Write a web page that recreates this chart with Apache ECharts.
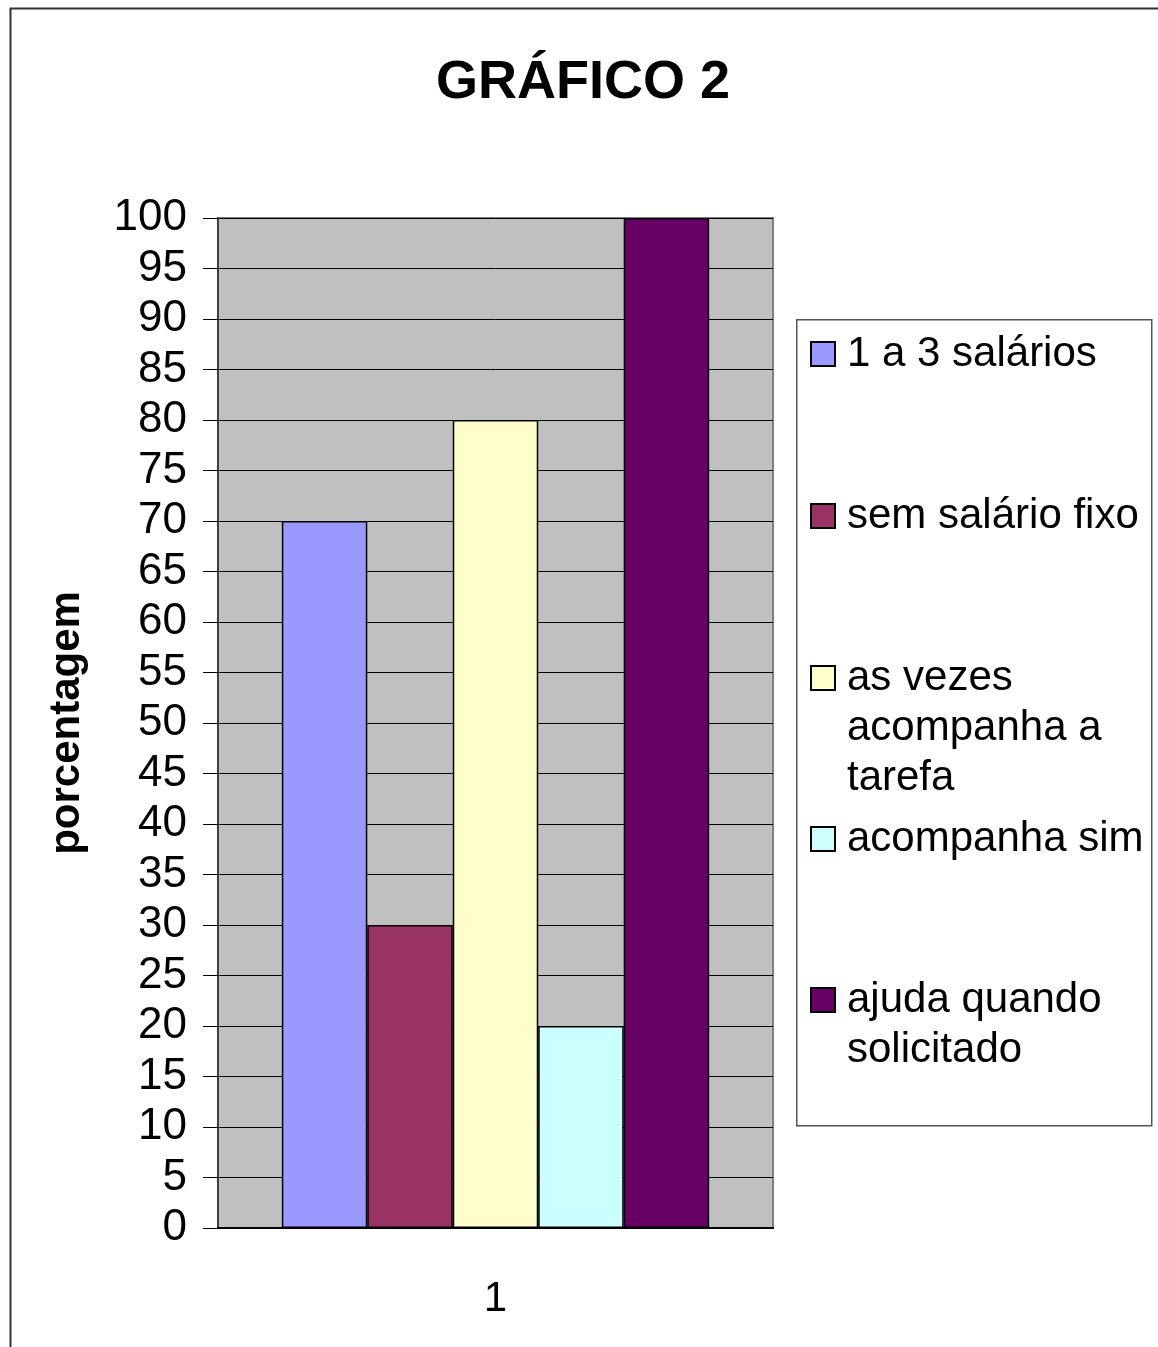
<!DOCTYPE html>
<html>
<head>
<meta charset="utf-8">
<title>GRÁFICO 2</title>
<script src="https://cdn.jsdelivr.net/npm/echarts@6/dist/echarts.min.js"></script>
<style>
  html, body { margin: 0; padding: 0; background: #fff; }
  #chart { width: 1158px; height: 1347px; }
</style>
</head>
<body>
<div id="chart"></div>
<script>
// dados
var categorias = ['1'];
var series_nomes = ['1 a 3 salários', 'sem salário fixo', 'as vezes\nacompanha a\ntarefa', 'acompanha sim', 'ajuda quando\nsolicitado'];
var valores = [70, 30, 80, 20, 100];
var cores = ['#9999FF', '#993366', '#FFFFCC', '#CCFFFF', '#660066'];

var FONTE = '"Liberation Sans", Arial, sans-serif';

// cada item da legenda fica numa legenda propria (como no Excel, a distancia entre itens é fixa)
var legendaTopo = [328, 490, 652, 813, 974];
function icone(linhas) {
  var h = (50 * linhas / 24).toFixed(4);
  return 'path://M0,0M0,0.5417L1,0.5417L1,1.5417L0,1.5417ZM0,' + h;
}

var legendas = series_nomes.map(function (nome, i) {
  var linhas = nome.split('\n').length;
  return {
    data: [nome],
    left: 810,
    top: legendaTopo[i],
    orient: 'vertical',
    padding: 0,
    icon: icone(linhas),
    itemWidth: 24,
    itemHeight: 50 * linhas,
    symbolKeepAspect: true,
    selectedMode: false,
    textStyle: {
      fontFamily: FONTE,
      fontSize: 42,
      lineHeight: 50,
      color: '#000',
      padding: [0, 0, 0, 7]
    }
  };
});

var series = series_nomes.map(function (nome, i) {
  return {
    name: nome,
    type: 'bar',
    barGap: '0%',
    barCategoryGap: '23%',
    data: [valores[i]],
    itemStyle: { color: cores[i], borderColor: '#000', borderWidth: 1.5 }
  };
});

var myChart = echarts.init(document.getElementById('chart'));
var option = {
  backgroundColor: '#fff',
  animation: false,
  title: {
    text: 'GRÁFICO 2',
    left: 436,
    top: 56,
    padding: 0,
    textStyle: { fontFamily: FONTE, fontSize: 54, fontWeight: 'bold', color: '#000' }
  },
  graphic: [
    {
      type: 'rect', left: 8, top: 6, silent: true,
      shape: { width: 1200, height: 1400 },
      style: { fill: 'none', stroke: '#333', lineWidth: 2 }
    },
    {
      type: 'rect', left: 796, top: 319, silent: true,
      shape: { width: 355, height: 806 },
      style: { fill: '#fff', stroke: '#555', lineWidth: 1.5 }, z: -1
    }
  ],
  legend: legendas,
  grid: {
    left: 218, right: 385, top: 218, bottom: 119,
    show: true, backgroundColor: '#c0c0c0', borderColor: '#808080', borderWidth: 2
  },
  xAxis: {
    type: 'category',
    data: categorias,
    axisLine: { lineStyle: { color: '#000', width: 2 } },
    axisTick: { length: 15, lineStyle: { color: '#333', width: 1 } },
    axisLabel: { fontFamily: FONTE, fontSize: 42, color: '#000', margin: 50 },
    splitLine: { show: false }
  },
  yAxis: {
    type: 'value',
    min: 0, max: 100, interval: 5,
    name: 'porcentagem',
    nameLocation: 'middle',
    nameGap: 130,
    nameRotate: 90,
    nameTextStyle: { fontFamily: FONTE, fontSize: 42, fontWeight: 'bold', color: '#000' },
    axisLine: { show: true, lineStyle: { color: '#404040', width: 2 } },
    axisTick: { show: true, length: 15, lineStyle: { color: '#000', width: 1 } },
    axisLabel: { fontFamily: FONTE, fontSize: 44, color: '#000', margin: 31 },
    splitLine: { show: true, lineStyle: { color: '#000', width: 1 } }
  },
  series: series
};
myChart.setOption(option);
</script>
</body>
</html>
